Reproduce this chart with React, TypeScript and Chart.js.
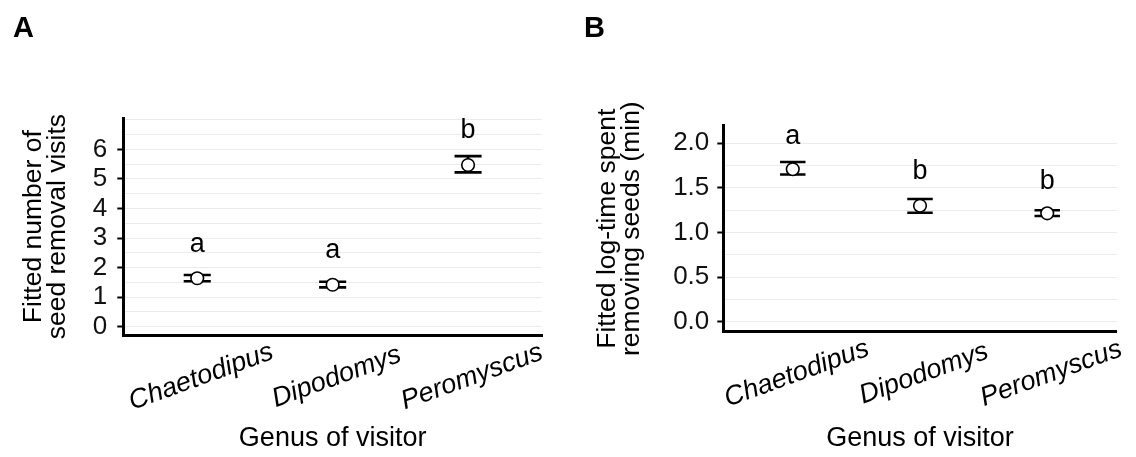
import React, { useEffect, useRef } from 'react';
import { Chart, registerables } from 'chart.js';

Chart.register(...registerables);

const FONT = "'Liberation Sans', Arial, Helvetica, sans-serif";

// ---- data ----
const genera = ['Chaetodipus', 'Dipodomys', 'Peromyscus'];

// Panel A: fitted number of seed removal visits
const visitsFit = [1.64, 1.42, 5.47];
const visitsLow = [1.54, 1.33, 5.22];
const visitsHigh = [1.75, 1.52, 5.77];
const visitsLetters = ['a', 'a', 'b'];
const visitsLetterY = [2.54, 2.33, 6.37];
const visitsTickLabels = [0, 1, 2, 3, 4, 5, 6];
const visitsGrid = [0, 0.5, 1, 1.5, 2, 2.5, 3, 3.5, 4, 4.5, 5, 5.5, 6, 6.5, 7];

// Panel B: fitted log-time spent removing seeds (min)
const timeFit = [1.71, 1.3, 1.215];
const timeLow = [1.65, 1.222, 1.185];
const timeHigh = [1.79, 1.375, 1.249];
const timeLetters = ['a', 'b', 'b'];
const timeLetterY = [1.99, 1.6, 1.49];
const timeTickLabels = [0, 0.5, 1, 1.5, 2];
const timeGrid = [0, 0.25, 0.5, 0.75, 1, 1.25, 1.5, 1.75, 2];

type Panel = {
  tag: string;
  tagX: number;
  yTitle: string[];
  yTitlePad: number;
  fit: number[];
  low: number[];
  high: number[];
  letters: string[];
  letterY: number[];
  tickLabels: number[];
  grid: number[];
  decimals: number;
  yMin: number;
  yMax: number;
  yAxisWidth: number;
  padTop: number;
  padRight: number;
  xAxisHeight: number;
  tickPad: number;
};

const panels: Panel[] = [
  {
    tag: 'A', tagX: 13,
    yTitle: ['Fitted number of', 'seed removal visits'], yTitlePad: 22,
    fit: visitsFit, low: visitsLow, high: visitsHigh,
    letters: visitsLetters, letterY: visitsLetterY,
    tickLabels: visitsTickLabels, grid: visitsGrid, decimals: 0,
    yMin: -0.28, yMax: 7.05,
    yAxisWidth: 123.3, padTop: 118.3, padRight: 26, xAxisHeight: 122, tickPad: 10,
  },
  {
    tag: 'B', tagX: 16,
    yTitle: ['Fitted log-time spent', 'removing seeds (min)'], yTitlePad: 28,
    fit: timeFit, low: timeLow, high: timeHigh,
    letters: timeLetters, letterY: timeLetterY,
    tickLabels: timeTickLabels, grid: timeGrid, decimals: 1,
    yMin: -0.112, yMax: 2.197,
    yAxisWidth: 155.3, padTop: 125.7, padRight: 19.3, xAxisHeight: 125.3, tickPad: 8,
  },
];

const isLabeled = (p: Panel, v: number) => p.tickLabels.some((t) => Math.abs(t - v) < 1e-6);

function PanelChart({ p }: { p: Panel }) {
  const ref = useRef<HTMLCanvasElement | null>(null);
  useEffect(() => {
    if (!ref.current) return;
    const extras = {
      id: 'extras' + p.tag,
      beforeDatasetsDraw(chart: any) {
        const { ctx, scales } = chart;
        const x = scales.x, y = scales.y;
        ctx.save();
        ctx.strokeStyle = '#000';
        ctx.lineWidth = 2.6;
        p.fit.forEach((_, i) => {
          const cx = x.getPixelForValue(i);
          const x0 = x.getPixelForValue(i - 0.1);
          const x1 = x.getPixelForValue(i + 0.1);
          const yl = y.getPixelForValue(p.low[i]);
          const yh = y.getPixelForValue(p.high[i]);
          ctx.beginPath();
          ctx.moveTo(cx, yl); ctx.lineTo(cx, yh);
          ctx.moveTo(x0, yl); ctx.lineTo(x1, yl);
          ctx.moveTo(x0, yh); ctx.lineTo(x1, yh);
          ctx.stroke();
        });
        ctx.restore();
      },
      afterDraw(chart: any) {
        const { ctx, scales, chartArea } = chart;
        const x = scales.x, y = scales.y;
        ctx.save();
        ctx.fillStyle = '#000';
        // significance letters
        ctx.font = `27px ${FONT}`;
        ctx.textAlign = 'center';
        ctx.textBaseline = 'alphabetic';
        p.letters.forEach((l, i) => {
          ctx.fillText(l, x.getPixelForValue(i), y.getPixelForValue(p.letterY[i]));
        });
        // rotated category labels
        ctx.font = `italic 27px ${FONT}`;
        ctx.textBaseline = 'middle';
        genera.forEach((g, i) => {
          ctx.save();
          ctx.translate(x.getPixelForValue(i) + 4, chartArea.bottom + 42);
          ctx.rotate((-20 * Math.PI) / 180);
          ctx.fillText(g, 0, 0);
          ctx.restore();
        });
        // panel tag
        ctx.font = `bold 29px ${FONT}`;
        ctx.textAlign = 'left';
        ctx.textBaseline = 'alphabetic';
        ctx.fillText(p.tag, p.tagX, 36.5);
        ctx.restore();
      },
    };
    const chart = new Chart(ref.current, {
      type: 'scatter',
      data: {
        datasets: [
          {
            data: p.fit.map((v, i) => ({ x: i, y: v })),
            pointRadius: 6.3,
            pointHoverRadius: 6.3,
            pointBackgroundColor: '#fff',
            pointBorderColor: '#000',
            pointBorderWidth: 1.6,
          },
        ],
      },
      options: {
        animation: false,
        responsive: false,
        events: [],
        layout: { padding: { left: 0, top: p.padTop, right: p.padRight, bottom: 0 } },
        plugins: { legend: { display: false }, tooltip: { enabled: false } },
        scales: {
          x: {
            type: 'linear',
            min: -0.546,
            max: 2.546,
            ticks: { display: false },
            grid: { display: false, drawTicks: false },
            border: { display: true, color: '#000', width: 3 },
            title: {
              display: true,
              text: 'Genus of visitor',
              color: '#000',
              font: { family: FONT, size: 27, lineHeight: 1.2 },
              padding: { top: 0, bottom: 2 },
            },
            afterFit: (s: any) => { s.height = p.xAxisHeight; },
          },
          y: {
            type: 'linear',
            min: p.yMin,
            max: p.yMax,
            afterBuildTicks: (s: any) => { s.ticks = p.grid.map((v) => ({ value: v })); },
            ticks: {
              autoSkip: false,
              padding: p.tickPad,
              color: '#111',
              font: { family: FONT, size: 26 },
              callback: (v: any) => (isLabeled(p, Number(v)) ? Number(v).toFixed(p.decimals) : ''),
            },
            grid: {
              color: '#ebebeb',
              lineWidth: 1,
              tickLength: 6,
              tickWidth: 2,
              tickColor: (c: any) => (c.tick && isLabeled(p, c.tick.value) ? '#000' : 'rgba(0,0,0,0)'),
            },
            border: { display: true, color: '#000', width: 3 },
            title: {
              display: true,
              text: p.yTitle,
              color: '#000',
              font: { family: FONT, size: 26.5, lineHeight: '24px' as any },
              padding: { top: p.yTitlePad, bottom: 0 },
            },
            afterFit: (s: any) => { s.width = p.yAxisWidth; },
          },
        },
      },
      plugins: [extras],
    } as any);
    return () => chart.destroy();
  }, [p]);
  return <canvas ref={ref} width={568} height={457} style={{ display: 'block', width: 568, height: 457 }} />;
}

export default function App() {
  useEffect(() => {
    document.body.style.margin = '0';
  }, []);
  return (
    <div style={{ position: 'absolute', left: 0, top: 0, width: 1136, height: 457, display: 'flex', background: '#fff' }}>
      {panels.map((p) => (
        <PanelChart key={p.tag} p={p} />
      ))}
    </div>
  );
}
